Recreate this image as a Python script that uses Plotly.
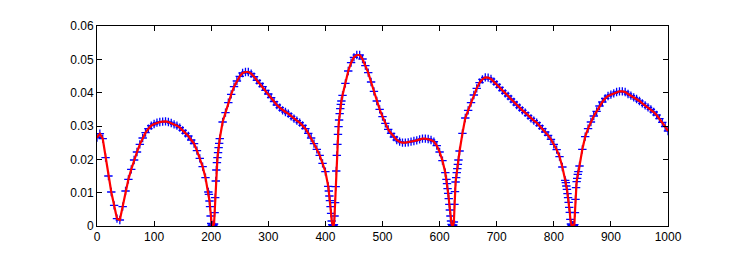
import plotly.graph_objects as go

x_vals = [
    0, 5, 10, 15, 20, 25, 30, 35, 40, 45, 50, 55, 60, 65, 70, 75, 80, 85, 90, 95,
    100, 105, 110, 115, 120, 125, 130, 135, 140, 145, 150, 155, 160, 165, 170, 175,
    180, 185, 190, 195, 196, 197, 198, 199, 200, 201, 202, 203, 204, 205, 206, 207,
    208, 209, 210, 211, 212, 213, 214, 215, 220, 225, 230, 235, 240, 245, 250, 255,
    260, 265, 270, 275, 280, 285, 290, 295, 300, 305, 310, 315, 320, 325, 330, 335,
    340, 345, 350, 355, 360, 365, 370, 375, 380, 385, 390, 395, 400, 405, 406, 407,
    408, 409, 410, 411, 412, 413, 414, 415, 416, 417, 418, 419, 420, 421, 422, 423,
    424, 425, 426, 427, 428, 430, 435, 440, 445, 450, 455, 460, 465, 470, 475, 480,
    485, 490, 495, 500, 505, 510, 515, 520, 525, 530, 535, 540, 545, 550, 555, 560,
    565, 570, 575, 580, 585, 590, 595, 600, 605, 610, 612, 613, 614, 615, 616, 617,
    618, 619, 620, 621, 622, 623, 624, 625, 626, 627, 628, 629, 630, 631, 632, 633,
    635, 640, 645, 650, 655, 660, 665, 670, 675, 680, 685, 690, 695, 700, 705, 710,
    715, 720, 725, 730, 735, 740, 745, 750, 755, 760, 765, 770, 775, 780, 785, 790,
    795, 800, 805, 810, 815, 820, 821, 822, 823, 824, 825, 826, 827, 828, 829, 830,
    831, 832, 833, 834, 835, 836, 837, 838, 839, 840, 841, 842, 843, 845, 850, 855,
    860, 865, 870, 875, 880, 885, 890, 895, 900, 905, 910, 915, 920, 925, 930, 935,
    940, 945, 950, 955, 960, 965, 970, 975, 980, 985, 990, 995, 1000,
]

y_vals = [
    0.0265, 0.0277, 0.0262, 0.0205, 0.0150, 0.0102, 0.0062, 0.0022, 0.0018, 0.0058,
    0.0105, 0.0140, 0.0170, 0.0198, 0.0222, 0.0245, 0.0264, 0.0280, 0.0292, 0.0301,
    0.0306, 0.0310, 0.0312, 0.0313, 0.0314, 0.0312, 0.0309, 0.0305, 0.0301, 0.0295,
    0.0287, 0.0278, 0.0270, 0.0258, 0.0247, 0.0226, 0.0203, 0.0178, 0.0145, 0.0102,
    0.0095, 0.0075, 0.0058, 0.0030, 0.0008, 0.0003, 0.0002, 0.0002, 0.0003, 0.0006,
    0.0040, 0.0085, 0.0135, 0.0168, 0.0190, 0.0205, 0.0220, 0.0235, 0.0248, 0.0262,
    0.0312, 0.0340, 0.0370, 0.0395, 0.0418, 0.0435, 0.0449, 0.0459, 0.0462, 0.0462,
    0.0457, 0.0448, 0.0437, 0.0428, 0.0418, 0.0407, 0.0396, 0.0385, 0.0373, 0.0363,
    0.0355, 0.0347, 0.0342, 0.0337, 0.0329, 0.0322, 0.0316, 0.0310, 0.0302, 0.0292,
    0.0278, 0.0264, 0.0247, 0.0230, 0.0212, 0.0188, 0.0163, 0.0119, 0.0105, 0.0090,
    0.0076, 0.0058, 0.0038, 0.0015, 0.0004, 0.0002, 0.0002, 0.0004, 0.0030, 0.0070,
    0.0118, 0.0165, 0.0212, 0.0245, 0.0275, 0.0298, 0.0318, 0.0337, 0.0352, 0.0365,
    0.0375, 0.0392, 0.0428, 0.0465, 0.0490, 0.0506, 0.0513, 0.0513, 0.0501, 0.0481,
    0.0460, 0.0432, 0.0404, 0.0375, 0.0350, 0.0328, 0.0308, 0.0290, 0.0278, 0.0267,
    0.0258, 0.0253, 0.0250, 0.0250, 0.0251, 0.0253, 0.0255, 0.0257, 0.0260, 0.0262,
    0.0262, 0.0261, 0.0258, 0.0253, 0.0241, 0.0222, 0.0196, 0.0160, 0.0140, 0.0127,
    0.0112, 0.0098, 0.0082, 0.0065, 0.0048, 0.0030, 0.0015, 0.0005, 0.0002, 0.0002,
    0.0003, 0.0012, 0.0065, 0.0103, 0.0132, 0.0145, 0.0160, 0.0172, 0.0185, 0.0198,
    0.0225, 0.0278, 0.0324, 0.0347, 0.0370, 0.0393, 0.0413, 0.0430, 0.0440, 0.0446,
    0.0445, 0.0441, 0.0433, 0.0425, 0.0416, 0.0406, 0.0398, 0.0390, 0.0381, 0.0372,
    0.0363, 0.0355, 0.0347, 0.0340, 0.0331, 0.0323, 0.0316, 0.0310, 0.0301, 0.0292,
    0.0282, 0.0272, 0.0260, 0.0245, 0.0229, 0.0208, 0.0177, 0.0137, 0.0130, 0.0120,
    0.0110, 0.0097, 0.0085, 0.0071, 0.0056, 0.0041, 0.0020, 0.0006, 0.0003, 0.0002,
    0.0002, 0.0002, 0.0002, 0.0004, 0.0040, 0.0080, 0.0115, 0.0133, 0.0143, 0.0155,
    0.0163, 0.0180, 0.0230, 0.0268, 0.0292, 0.0312, 0.0330, 0.0344, 0.0360, 0.0372,
    0.0383, 0.0390, 0.0394, 0.0398, 0.0402, 0.0404, 0.0404, 0.0402, 0.0396, 0.0391,
    0.0386, 0.0381, 0.0375, 0.0368, 0.0362, 0.0356, 0.0350, 0.0342, 0.0333, 0.0322,
    0.0311, 0.0298, 0.0285,
]

x_ticks = [0, 100, 200, 300, 400, 500, 600, 700, 800, 900, 1000]
y_ticks = [0, 0.01, 0.02, 0.03, 0.04, 0.05, 0.06]
y_tick_text = ["0", "0.01", "0.02", "0.03", "0.04", "0.05", "0.06"]

fig = go.Figure()
fig.add_trace(go.Scatter(
    x=x_vals, y=y_vals, mode="markers",
    marker=dict(symbol="cross-thin", size=6, line=dict(color="#0000ff", width=1.3)),
    showlegend=False, hoverinfo="skip",
))
fig.add_trace(go.Scatter(
    x=x_vals, y=y_vals, mode="lines",
    line=dict(color="#ff0000", width=2.2),
    showlegend=False,
))

axis_common = dict(
    showgrid=False, zeroline=False, showline=True, linecolor="black", linewidth=1,
    mirror="ticks", ticks="inside", ticklen=5, tickcolor="black", tickwidth=1,
    tickfont=dict(family="Liberation Sans, Arial, sans-serif", size=12, color="black"),
)

fig.update_layout(
    width=738, height=254,
    margin=dict(l=89, r=78, t=11, b=36),
    paper_bgcolor="white", plot_bgcolor="white",
    xaxis=dict(range=[0, 1000], tickvals=x_ticks, ticktext=[str(v) for v in x_ticks], **axis_common),
    yaxis=dict(range=[0, 0.06], tickvals=y_ticks, ticktext=y_tick_text, **axis_common),
)

fig.write_html("out.html")
